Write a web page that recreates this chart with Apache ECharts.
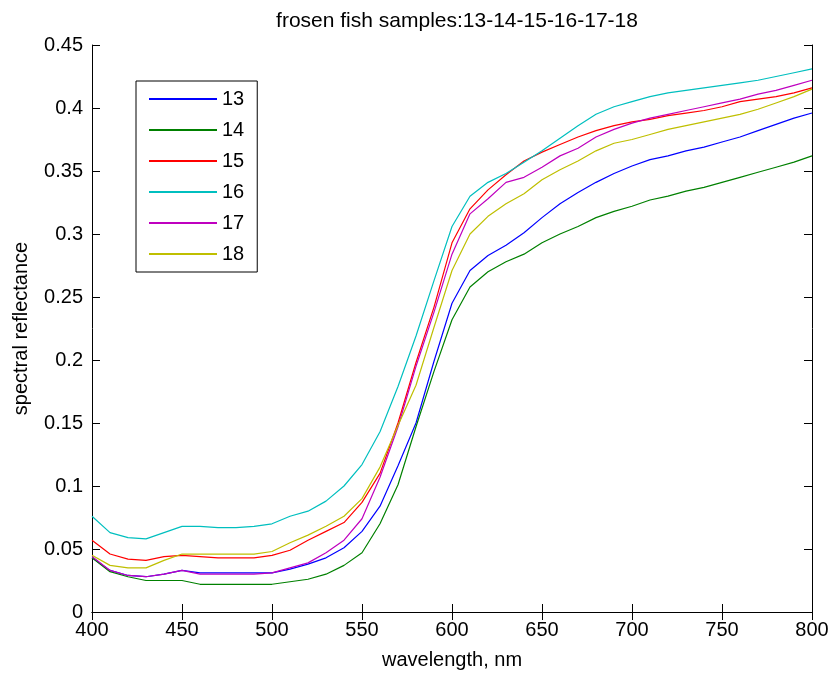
<!DOCTYPE html>
<html>
<head>
<meta charset="utf-8">
<script src="https://cdn.jsdelivr.net/npm/echarts@6/dist/echarts.min.js"></script>
<style>html,body{margin:0;padding:0;background:#fff}#c{width:835px;height:675px}</style>
</head>
<body>
<div id="c"></div>
<script>
const wavelengths = [400,410,420,430,440,450,460,470,480,490,500,510,520,530,540,550,560,570,580,590,600,610,620,630,640,650,660,670,680,690,700,710,720,730,740,750,760,770,780,790,800];
const s13 = [0.043,0.033,0.029,0.028,0.030,0.033,0.031,0.031,0.031,0.031,0.031,0.034,0.038,0.043,0.051,0.064,0.084,0.116,0.150,0.199,0.245,0.271,0.283,0.291,0.301,0.313,0.324,0.333,0.341,0.348,0.354,0.359,0.362,0.366,0.369,0.373,0.377,0.382,0.387,0.392,0.396];
const s14 = [0.043,0.032,0.028,0.025,0.025,0.025,0.022,0.022,0.022,0.022,0.022,0.024,0.026,0.030,0.037,0.047,0.070,0.101,0.147,0.191,0.232,0.258,0.270,0.278,0.284,0.293,0.300,0.306,0.313,0.318,0.322,0.327,0.330,0.334,0.337,0.341,0.345,0.349,0.353,0.357,0.362];
const s15 = [0.057,0.046,0.042,0.041,0.044,0.045,0.044,0.043,0.043,0.043,0.045,0.049,0.057,0.064,0.071,0.087,0.110,0.150,0.198,0.242,0.293,0.320,0.335,0.347,0.358,0.365,0.371,0.377,0.382,0.386,0.389,0.391,0.394,0.396,0.398,0.401,0.405,0.407,0.409,0.412,0.416];
const s16 = [0.076,0.063,0.059,0.058,0.063,0.068,0.068,0.067,0.067,0.068,0.070,0.076,0.080,0.088,0.100,0.117,0.143,0.179,0.219,0.263,0.306,0.330,0.341,0.348,0.357,0.366,0.376,0.386,0.395,0.401,0.405,0.409,0.412,0.414,0.416,0.418,0.420,0.422,0.425,0.428,0.431];
const s17 = [0.044,0.033,0.029,0.028,0.030,0.033,0.030,0.030,0.030,0.030,0.031,0.035,0.039,0.047,0.057,0.074,0.107,0.147,0.195,0.238,0.284,0.316,0.328,0.341,0.345,0.353,0.362,0.368,0.377,0.383,0.388,0.392,0.395,0.398,0.401,0.404,0.407,0.411,0.414,0.418,0.422];
const s18 = [0.045,0.037,0.035,0.035,0.041,0.046,0.046,0.046,0.046,0.046,0.048,0.055,0.061,0.068,0.076,0.090,0.115,0.148,0.180,0.226,0.271,0.300,0.314,0.324,0.332,0.343,0.351,0.358,0.366,0.372,0.375,0.379,0.383,0.386,0.389,0.392,0.395,0.399,0.404,0.409,0.415];
const seriesNames = ['13','14','15','16','17','18'];
const seriesValues = [s13,s14,s15,s16,s17,s18];
const colors = ['#0000ff','#008000','#ff0000','#00bfbf','#bf00bf','#bfbf00'];
const titleText = 'frosen fish samples:13-14-15-16-17-18';
const xName = 'wavelength, nm';
const yName = 'spectral reflectance';

const FONT = 'Liberation Sans, Arial, sans-serif';
const chart = echarts.init(document.getElementById('c'), null, {renderer:'canvas'});
const axisLine = {show:true, lineStyle:{color:'#000', width:1}};
const tick = {show:true, inside:true, length:8, lineStyle:{color:'#000', width:1}};
chart.setOption({
  animation:false,
  backgroundColor:'#fff',
  color: colors,
  textStyle:{fontFamily:FONT},
  title:{text:titleText, left:452, textAlign:'center', top:6,
    textStyle:{fontFamily:FONT, fontSize:21, fontWeight:'normal', color:'#000'}},
  legend:{orient:'vertical', left:136, top:81, padding:[8,13,8,13], itemGap:11,
    itemWidth:68, itemHeight:20, borderColor:'#000', borderWidth:1, backgroundColor:'#fff',
    textStyle:{fontFamily:FONT, fontSize:20, color:'#000'},
    data: seriesNames.map(n=>({name:n, icon:'path://M0,0 L100,0 L100,3 L0,3 Z'}))},
  grid:{left:92, right:23, top:45, bottom:63, containLabel:false},
  xAxis:[
    {type:'value', min:400, max:800, interval:50, position:'bottom',
     axisLine, axisTick:tick, splitLine:{show:false},
     axisLabel:{color:'#000', fontSize:20, fontFamily:FONT, margin:8},
     name:xName, nameLocation:'middle', nameGap:38,
     nameTextStyle:{color:'#000', fontSize:20, fontFamily:FONT}},
    {type:'value', min:400, max:800, interval:50, position:'top',
     axisLine, axisTick:tick, axisLabel:{show:false}, splitLine:{show:false}}
  ],
  yAxis:[
    {type:'value', min:0, max:0.45, interval:0.05, position:'left',
     axisLine, axisTick:tick, splitLine:{show:false},
     axisLabel:{color:'#000', fontSize:20, fontFamily:FONT, margin:9},
     name:yName, nameLocation:'middle', nameGap:61,
     nameTextStyle:{color:'#000', fontSize:20, fontFamily:FONT}},
    {type:'value', min:0, max:0.45, interval:0.05, position:'right',
     axisLine, axisTick:tick, axisLabel:{show:false}, splitLine:{show:false}}
  ],
  series: seriesNames.map((n,i)=>({
    name:n, type:'line', xAxisIndex:0, yAxisIndex:0, symbol:'none', smooth:false,
    lineStyle:{width:1.2, color:colors[i]}, itemStyle:{color:colors[i]},
    data: wavelengths.map((w,j)=>[w, seriesValues[i][j]])
  }))
});
</script>
</body>
</html>
